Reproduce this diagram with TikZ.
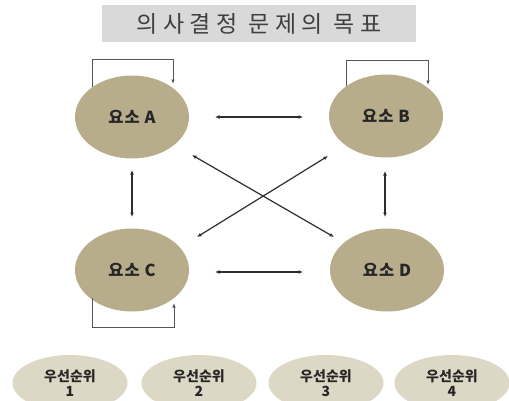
\documentclass[tikz,border=0pt]{standalone}
\usepackage{fontspec}
\setmainfont{Noto Sans CJK KR}
\usetikzlibrary{arrows.meta,shapes.geometric,calc}
\definecolor{elemfill}{HTML}{B8AD8B}
\definecolor{prifill}{HTML}{DDD8C5}
\definecolor{titlefill}{HTML}{D9D9D9}
\definecolor{titletext}{HTML}{3F3F3F}
\definecolor{linecol}{HTML}{2E2E2E}
\definecolor{loopcol}{HTML}{555555}
\tikzset{
  elem/.style={ellipse, fill=elemfill, minimum width=114pt, minimum height=83pt, inner sep=0pt, font=\fontsize{16.5}{18}\selectfont\bfseries\addfontfeature{LetterSpace=6}, text=black!85},
  prio/.style={ellipse, fill=prifill, minimum width=115pt, minimum height=56pt, inner sep=0pt, font=\fontsize{14}{14.5}\selectfont\bfseries, align=center, text=black!85},
  biarrow/.style={draw=linecol, line width=1.2pt, {Latex[length=4.5pt,width=3.8pt]}-{Latex[length=4.5pt,width=3.8pt]}},
  selfloop/.style={draw=loopcol, line width=0.8pt, -{Latex[length=4.5pt,width=3.5pt]}},
  titlebox/.style={fill=titlefill, minimum width=314pt, minimum height=37pt, inner sep=0pt, text=titletext, font=\fontsize{23}{24}\selectfont\addfontfeature{LetterSpace=24}}
}
\begin{document}
\begin{tikzpicture}[x=1pt,y=-1pt]
\useasboundingbox (0,0) rectangle (509,400);
\clip (0,0) rectangle (509,400);
\fill[white] (0,0) rectangle (509,400);

\node[titlebox] (title) at (259,23.5) {의사결정 문제의 목표};

\node[elem] (A) at (132,117) {요소 A};
\node[elem] (B) at (386,116) {요소 B};
\node[elem] (C) at (132,270) {요소 C};
\node[elem] (D) at (387,270) {요소 D};

% horizontal and vertical links
\coordinate (h1l) at (215,117); \coordinate (h1r) at (303,117);
\coordinate (h2l) at (215,272); \coordinate (h2r) at (303,272);
\draw[biarrow] (h1l) -- (h1r);
\draw[biarrow] (h2l) -- (h2r);
\coordinate (v1t) at (132,170); \coordinate (v1b) at (132,217);
\coordinate (v2t) at (385,171); \coordinate (v2b) at (385,217);
\draw[biarrow] (v1t) -- (v1b);
\draw[biarrow] (v2t) -- (v2b);
% diagonals
\coordinate (d1a) at (192,155); \coordinate (d1b) at (334,237);
\coordinate (d2a) at (328,156); \coordinate (d2b) at (197,237);
\draw[biarrow] (d1a) -- (d1b);
\draw[biarrow] (d2a) -- (d2b);

% self loops
\draw[selfloop] ($(A.center)+(-40,-30)$) |- ($(A.center)+(41,-58)$) -- ($(A.center)+(41,-33)$);
\draw[selfloop] ($(B.center)+(-40,-30)$) |- ($(B.center)+(42,-56)$) -- ($(B.center)+(42,-31)$);
\draw[selfloop] ($(C.center)+(-40,28)$) |- ($(C.center)+(42,57)$) -- ($(C.center)+(42,33)$);

% priorities
\node[prio] (p1) at (70,383) {우선순위\\1};
\node[prio] (p2) at (199,383) {우선순위\\2};
\node[prio] (p3) at (326,383) {우선순위\\3};
\node[prio] (p4) at (452,383) {우선순위\\4};
\end{tikzpicture}
\end{document}
